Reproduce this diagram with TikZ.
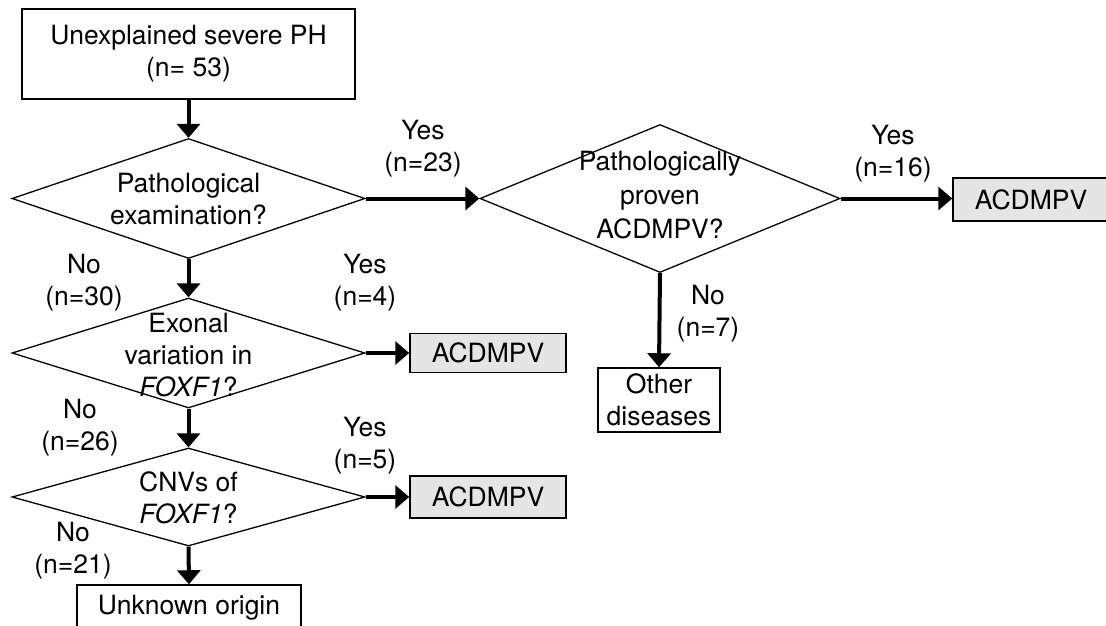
\documentclass[tikz,border=0pt]{standalone}
\usepackage{fontspec}
\setmainfont{TeX Gyre Heros}
\usetikzlibrary{arrows.meta,positioning,shapes.geometric}
\tikzset{
	box/.style={draw,line width=1.5pt,rectangle,align=center,inner sep=0pt},
	found/.style={box,fill=black!10},
	decision/.style={draw,line width=1.3pt,diamond,inner sep=0pt},
	txt/.style={align=center,inner sep=0pt},
	flow/.style={-{Triangle[length=14pt,width=23pt]},line width=4pt}
}

\begin{document}
\begin{tikzpicture}[x=1pt,y=-1pt,font=\fontsize{26.5}{32}\selectfont]
            \useasboundingbox (0,0) rectangle (1106,625);
            \clip (0,0) rectangle (1106,625);
            \node[box,minimum width=333pt,minimum height=90pt] (start) at (188.5,54) {Unexplained severe PH\\(n= 53)};
            \node[decision,minimum width=353pt,minimum height=120pt] (exam) at (188.5,198.5) {};
            \node[txt] (examtxt) at (188.5,199) {Pathological\\examination?};
            \node[decision,minimum width=353pt,minimum height=110pt] (exon) at (188.5,353) {};
            \node[txt] (exontxt) at (188.5,355) {Exonal\\variation in\\\textit{FOXF1}?};
            \node[decision,minimum width=353pt,minimum height=98pt] (cnv) at (188.5,497) {};
            \node[txt] (cnvtxt) at (188.5,498) {CNVs of\\\textit{FOXF1}?};
            \node[decision,minimum width=360pt,minimum height=148pt] (path) at (660,198.5) {};
            \node[txt,font=\fontsize{26.5}{34}\selectfont] (pathtxt) at (660,195) {Pathologically\\proven\\ACDMPV?};
            \node[found,minimum width=156pt,minimum height=39pt] (acd1) at (488,353) {ACDMPV};
            \node[found,minimum width=156pt,minimum height=42pt] (acd2) at (488,497) {ACDMPV};
            \node[found,minimum width=156pt,minimum height=43pt] (acd3) at (1031,199.5) {ACDMPV};
            \node[box,minimum width=122pt,minimum height=64pt] (other) at (659,400) {Other\\diseases};
            \node[box,minimum width=224pt,minimum height=45pt] (unknown) at (189,607.5) {Unknown origin};
            \draw[flow] (start) -- (exam.north);
            \draw[flow] (exam.south) -- (exon.north);
            \draw[flow] (exon.south) -- (cnv.north);
            \draw[flow] (cnv.south) -- (unknown.north);
            \draw[flow] (exam.east) -- (path.west);
            \draw[flow] (path.east) -- (path.east -| acd3.west);
            \draw[flow] (path.south) -- (other.north);
            \draw[flow] (exon.east) -- (acd1.west);
            \draw[flow] (cnv.east) -- (acd2.west);
            \node[txt] (yes23) at (423,149) {Yes\\(n=23)};
            \node[txt] (yes16) at (893,154) {Yes\\(n=16)};
            \node[txt] (no7) at (708,314) {No\\(n=7)};
            \node[txt] (no30) at (84,283) {No\\(n=30)};
            \node[txt] (yes4) at (365,283) {Yes\\(n=4)};
            \node[txt] (no26) at (80,428) {No\\(n=26)};
            \node[txt] (yes5) at (365,446) {Yes\\(n=5)};
            \node[txt] (no21) at (73,551) {No\\(n=21)};
        \end{tikzpicture}
\end{document}
